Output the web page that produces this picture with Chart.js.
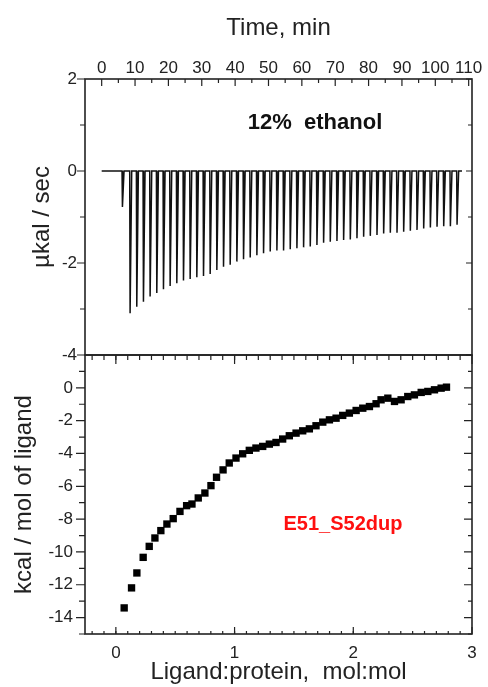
<!DOCTYPE html>
<html>
<head>
<meta charset="utf-8">
<script src="https://cdn.jsdelivr.net/npm/chart.js@4.4.0/dist/chart.umd.min.js"></script>
<style>
  body { margin: 0; background: #fff; }
  #topBox { position: absolute; left: 0; top: 0; width: 488px; height: 360px; }
  #bottomBox { position: absolute; left: 0; top: 345px; width: 488px; height: 342px; }
</style>
</head>
<body>
<div id="topBox"><canvas id="rawChart"></canvas></div>
<div id="bottomBox"><canvas id="heatChart"></canvas></div>
<script>
// raw thermogram: injection times (min) and peak depths (µkal/sec)
var baselineStart = 0;
var baselineEnd = 108;
var firstInjTime = 6.1;
var firstInjPeak = -0.78;
var injTimes = [8.4, 10.4, 12.4, 14.4, 16.4, 18.4, 20.4, 22.4, 24.4, 26.4,
                28.4, 30.4, 32.4, 34.4, 36.4, 38.4, 40.4, 42.4, 44.4, 46.4,
                48.4, 50.4, 52.4, 54.4, 56.4, 58.4, 60.4, 62.4, 64.4, 66.4,
                68.4, 70.4, 72.4, 74.4, 76.4, 78.4, 80.4, 82.4, 84.4, 86.4,
                88.4, 90.4, 92.4, 94.4, 96.4, 98.4, 100.4, 102.4, 104.4, 106.4];
var injPeaks = [-3.09, -2.95, -2.84, -2.73, -2.65, -2.57, -2.50, -2.44, -2.38, -2.35,
                -2.31, -2.28, -2.24, -2.15, -2.08, -2.04, -1.97, -1.92, -1.88, -1.83,
                -1.79, -1.75, -1.73, -1.73, -1.70, -1.68, -1.66, -1.64, -1.61, -1.56,
                -1.54, -1.52, -1.50, -1.49, -1.46, -1.43, -1.41, -1.39, -1.36, -1.34,
                -1.34, -1.32, -1.30, -1.28, -1.25, -1.23, -1.21, -1.20, -1.20, -1.17];

// integrated heats
var molarRatio = [0.070, 0.132, 0.177, 0.230, 0.281, 0.329, 0.379, 0.430, 0.483, 0.540,
                  0.596, 0.641, 0.694, 0.750, 0.801, 0.848, 0.903, 0.955, 1.012, 1.068,
                  1.124, 1.180, 1.237, 1.293, 1.349, 1.405, 1.461, 1.518, 1.574, 1.630,
                  1.686, 1.743, 1.799, 1.855, 1.911, 1.967, 2.024, 2.080, 2.136, 2.192,
                  2.234, 2.291, 2.347, 2.403, 2.459, 2.515, 2.572, 2.628, 2.684, 2.740, 2.785];
var heatPerMol = [-13.41, -12.19, -11.28, -10.33, -9.66, -9.15, -8.70, -8.30, -7.97, -7.53,
                  -7.18, -7.08, -6.71, -6.41, -5.96, -5.45, -5.00, -4.58, -4.28, -4.02,
                  -3.81, -3.67, -3.57, -3.43, -3.33, -3.12, -2.92, -2.76, -2.62, -2.50,
                  -2.31, -2.09, -1.95, -1.85, -1.68, -1.54, -1.38, -1.24, -1.14, -0.97,
                  -0.73, -0.63, -0.83, -0.73, -0.53, -0.43, -0.28, -0.22, -0.12, -0.02, 0.04];

// tick labels
var timeTicks = [0, 10, 20, 30, 40, 50, 60, 70, 80, 90, 100, 110];
var powerTicks = [-4, -2, 0, 2];
var ratioTicks = [0, 1, 2, 3];
var heatTicks = [-14, -12, -10, -8, -6, -4, -2, 0];

var FONT = '"Liberation Sans", Arial, sans-serif';
var INK = '#222';

function steps(from, to, step) {
    var out = [];
    for (var v = from; v <= to + 1e-9; v += step) out.push(Math.round(v * 1000) / 1000);
    return out;
}

// build the trace: baseline, then a sharp dip at every injection
var trace = [{x: baselineStart, y: 0}];
function addSpike(t, d) {
    trace.push({x: t, y: 0}, {x: t + 0.12, y: d}, {x: t + 0.6, y: 0});
}
addSpike(firstInjTime, firstInjPeak);
injTimes.forEach(function(t, i) { addSpike(t, injPeaks[i]); });
trace.push({x: baselineEnd, y: 0});

// frame and tick marks, positive length = inward
var frameTicks = {
    id: 'frameTicks',
    afterDraw: function(chart, args, opts) {
        var ctx = chart.ctx, a = chart.chartArea;
        ctx.save();
        ctx.strokeStyle = INK;
        ctx.lineWidth = 1.2;
        opts.marks.forEach(function(m) {
            var sc = chart.scales[m.axis];
            ctx.beginPath();
            m.values.forEach(function(v) {
                var p = sc.getPixelForValue(v);
                if (m.edge === 'top') { ctx.moveTo(p, a.top); ctx.lineTo(p, a.top + m.len); }
                if (m.edge === 'bottom') { ctx.moveTo(p, a.bottom); ctx.lineTo(p, a.bottom - m.len); }
                if (m.edge === 'left') { ctx.moveTo(a.left, p); ctx.lineTo(a.left + m.len, p); }
                if (m.edge === 'right') { ctx.moveTo(a.right, p); ctx.lineTo(a.right - m.len, p); }
            });
            ctx.stroke();
        });
        ctx.lineWidth = 1.6;
        ctx.strokeRect(a.left, a.top, a.right - a.left, a.bottom - a.top);
        ctx.restore();
    }
};

var labelText = {
    id: 'labelText',
    afterDraw: function(chart, args, opts) {
        var ctx = chart.ctx;
        ctx.save();
        ctx.font = opts.font;
        ctx.fillStyle = opts.color;
        ctx.textAlign = 'center';
        ctx.textBaseline = 'middle';
        ctx.fillText(opts.text, opts.x, opts.y);
        ctx.restore();
    }
};

function fixTicks(list) {
    return function(scale) { scale.ticks = list.map(function(v) { return {value: v}; }); };
}
function fixSize(prop, size) {
    return function(s) {
        s[prop] = size;
        s.paddingTop = 0; s.paddingBottom = 0; s.paddingLeft = 0; s.paddingRight = 0;
    };
}

var tickFont = {family: FONT, size: 17};
var titleFont = {family: FONT, size: 24};
var noGrid = {display: false, drawTicks: false, tickLength: 0};

new Chart(document.getElementById('rawChart'), {
    type: 'line',
    data: {
        datasets: [{
            data: trace,
            borderColor: '#111',
            borderWidth: 1.5,
            pointRadius: 0,
            tension: 0
        }]
    },
    options: {
        responsive: true,
        maintainAspectRatio: false,
        animation: false,
        devicePixelRatio: 1,
        layout: {padding: {left: 0, right: 16, top: 0, bottom: 5}},
        plugins: {
            legend: {display: false},
            tooltip: {enabled: false},
            frameTicks: {
                marks: [
                    {axis: 'x', edge: 'top', len: 7, values: timeTicks},
                    {axis: 'x', edge: 'top', len: 4, values: steps(5, 105, 10)},
                    {axis: 'y', edge: 'left', len: -8, values: powerTicks},
                    {axis: 'y', edge: 'left', len: -5, values: [-3, -1, 1]},
                    {axis: 'y', edge: 'right', len: 6, values: powerTicks},
                    {axis: 'y', edge: 'right', len: 4, values: [-3, -1, 1]}
                ]
            },
            labelText: {text: '12%  ethanol', x: 315, y: 123, color: '#111',
                        font: 'bold 22px ' + FONT}
        },
        scales: {
            x: {
                type: 'linear',
                position: 'top',
                min: -5,
                max: 111,
                afterBuildTicks: fixTicks(timeTicks),
                afterFit: fixSize('height', 79),
                grid: noGrid,
                border: {display: false},
                ticks: {font: tickFont, color: INK, padding: 0, maxRotation: 0, autoSkip: false},
                title: {display: true, text: 'Time, min', font: titleFont, color: INK,
                        padding: {top: 14, bottom: 0}}
            },
            y: {
                min: -4,
                max: 2,
                afterBuildTicks: fixTicks(powerTicks),
                afterFit: fixSize('width', 85),
                grid: noGrid,
                border: {display: false},
                ticks: {font: tickFont, color: INK, padding: 8},
                title: {display: true, text: 'µkal / sec', font: titleFont, color: INK,
                        padding: {top: 28, bottom: 0}}
            }
        }
    },
    plugins: [frameTicks, labelText]
});

new Chart(document.getElementById('heatChart'), {
    type: 'scatter',
    data: {
        datasets: [{
            data: molarRatio.map(function(r, i) { return {x: r, y: heatPerMol[i]}; }),
            pointStyle: 'rect',
            pointRadius: 5.2,
            pointBorderWidth: 0,
            backgroundColor: '#000',
            borderColor: '#000'
        }]
    },
    options: {
        responsive: true,
        maintainAspectRatio: false,
        animation: false,
        devicePixelRatio: 1,
        layout: {padding: {left: 0, right: 16, top: 10, bottom: 0}},
        plugins: {
            legend: {display: false},
            tooltip: {enabled: false},
            frameTicks: {
                marks: [
                    {axis: 'x', edge: 'bottom', len: 7, values: ratioTicks},
                    {axis: 'x', edge: 'bottom', len: 3, values: steps(-0.2, 2.9, 0.1)},
                    {axis: 'x', edge: 'top', len: 9, values: ratioTicks},
                    {axis: 'x', edge: 'top', len: 5, values: steps(-0.2, 2.9, 0.1)},
                    {axis: 'y', edge: 'left', len: -9, values: heatTicks},
                    {axis: 'y', edge: 'left', len: -6, values: steps(-15, 1, 2)},
                    {axis: 'y', edge: 'right', len: 8, values: heatTicks},
                    {axis: 'y', edge: 'right', len: 4, values: steps(-15, 1, 2)}
                ]
            },
            labelText: {text: 'E51_S52dup', x: 343, y: 179, color: '#ff1010',
                        font: 'bold 20px ' + FONT}
        },
        scales: {
            x: {
                type: 'linear',
                position: 'bottom',
                min: -0.26,
                max: 3,
                afterBuildTicks: fixTicks(ratioTicks),
                afterFit: fixSize('height', 53),
                grid: noGrid,
                border: {display: false},
                ticks: {font: tickFont, color: INK, padding: 9, maxRotation: 0, autoSkip: false},
                title: {display: true, text: 'Ligand:protein,  mol:mol', font: titleFont, color: INK,
                        padding: {top: 0, bottom: 0}}
            },
            y: {
                min: -15,
                max: 2,
                afterBuildTicks: fixTicks(heatTicks),
                afterFit: fixSize('width', 85),
                grid: noGrid,
                border: {display: false},
                ticks: {font: tickFont, color: INK, padding: 12},
                title: {display: true, text: 'kcal / mol of ligand', font: titleFont, color: INK,
                        padding: {top: 10, bottom: 0}}
            }
        }
    },
    plugins: [frameTicks, labelText]
});
</script>
</body>
</html>
